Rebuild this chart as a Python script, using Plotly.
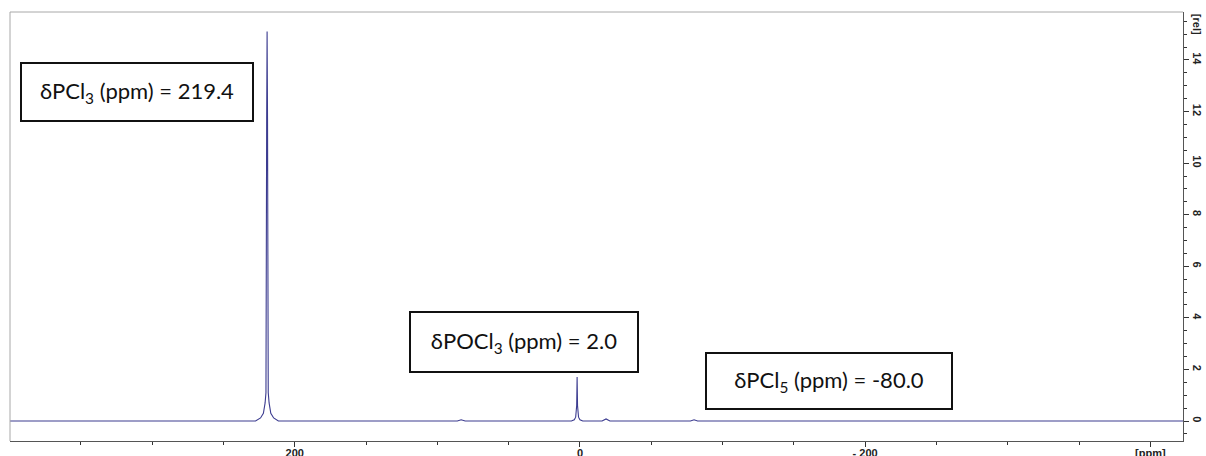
import plotly.graph_objects as go

# 31P NMR spectrum: chemical shift (ppm) and relative intensity
ppm = [399.7, 227.5, 224.0, 222.0, 220.8, 220.2, 219.7, 219.4, 219.1, 218.6, 218.0,
       216.8, 214.8, 211.5, 86.0, 83.3, 80.5, 6.0, 4.0, 3.0, 2.3, 2.0, 1.7, 1.0,
       0.0, -2.0, -15.5, -18.3, -21.0, -77.5, -80.0, -82.5, -422.9]
intensity = [0.0, 0.0, 0.12, 0.3, 0.7, 1.1, 11.7, 15.1, 11.7, 1.1, 0.7,
             0.3, 0.12, 0.0, 0.0, 0.05, 0.0, 0.0, 0.05, 0.15, 0.6, 1.71, 0.6, 0.15,
             0.05, 0.0, 0.0, 0.08, 0.0, 0.0, 0.05, 0.0, 0.0]

# Assigned signals
labels = ["δPCl<sub>3</sub> (ppm) = 219.4",
          "δPOCl<sub>3</sub> (ppm) = 2.0",
          "δPCl<sub>5</sub> (ppm) = -80.0"]

x_tickvals = [200, 0, -200, -400]
x_ticktext = ["200", "0", "- 200", "[ppm]"]
y_tickvals = [0, 2, 4, 6, 8, 10, 12, 14]
y_ticktext = ["0", "2", "4", "6", "8", "10", "12", "14"]

X_RANGE = [399.7, -422.9]
Y_RANGE = [-0.775, 15.86]

fig = go.Figure()
fig.add_trace(go.Scatter(
    x=ppm, y=intensity, mode="lines",
    line=dict(color="#3c3c90", width=1.1),
    hoverinfo="skip", showlegend=False,
))

tick_font = dict(family="Liberation Sans", size=11, color="#222222")

fig.update_xaxes(
    range=X_RANGE, showgrid=False, zeroline=False, automargin=False,
    showline=True, linecolor="#555555", linewidth=1,
    ticks="outside", ticklen=5, tickcolor="#333333", tickwidth=1,
    tickvals=x_tickvals, ticktext=[f"<b>{t}</b>" for t in x_ticktext],
    tickfont=tick_font, ticklabelstandoff=-3,
    minor=dict(dtick=50, tick0=0, ticks="outside", ticklen=3, tickcolor="#333333"),
)
fig.update_yaxes(
    range=Y_RANGE, side="right", showgrid=False, zeroline=False, automargin=False,
    showline=True, linecolor="#555555", linewidth=1,
    ticks="outside", ticklen=5, tickcolor="#333333", tickwidth=1,
    tickvals=y_tickvals, ticktext=[f"<b>{t}</b>" for t in y_ticktext],
    tickangle=90, tickfont=tick_font,
    minor=dict(dtick=0.5, tick0=0, ticks="outside", ticklen=3, tickcolor="#333333"),
)

# light frame on top and left edges
fig.add_shape(type="line", xref="paper", yref="paper", x0=0, x1=1, y0=1, y1=1,
              line=dict(color="#a8a8a8", width=1))
fig.add_shape(type="line", xref="paper", yref="paper", x0=0, x1=0, y0=0, y1=1,
              line=dict(color="#a8a8a8", width=1))

# intensity unit label on the right axis
fig.add_annotation(x=1, y=15.4, xref="paper", yref="y", xanchor="left", yanchor="middle",
                   xshift=6, text="<b>[rel]</b>", textangle=90, showarrow=False,
                   font=tick_font)

box_font = dict(family="Lato", size=22, color="#111111")
boxes = [
    # (left ppm, top intensity, width px, height px)
    (392.6, 13.92, 230, 56),
    (119.8, 4.27, 226, 58),
    (-87.6, 2.67, 244, 54),
]
for text, (bx, by, bw, bh) in zip(labels, boxes):
    fig.add_annotation(x=bx, y=by, xref="x", yref="y", xanchor="left", yanchor="top",
                       text=text, showarrow=False, font=box_font,
                       width=bw, height=bh, align="center", valign="middle",
                       bordercolor="#111111", borderwidth=2, borderpad=0,
                       bgcolor="white")

fig.update_layout(
    width=1206, height=456,
    margin=dict(l=10, r=23, t=12, b=15),
    plot_bgcolor="white", paper_bgcolor="white",
)

fig.write_html("out.html")
